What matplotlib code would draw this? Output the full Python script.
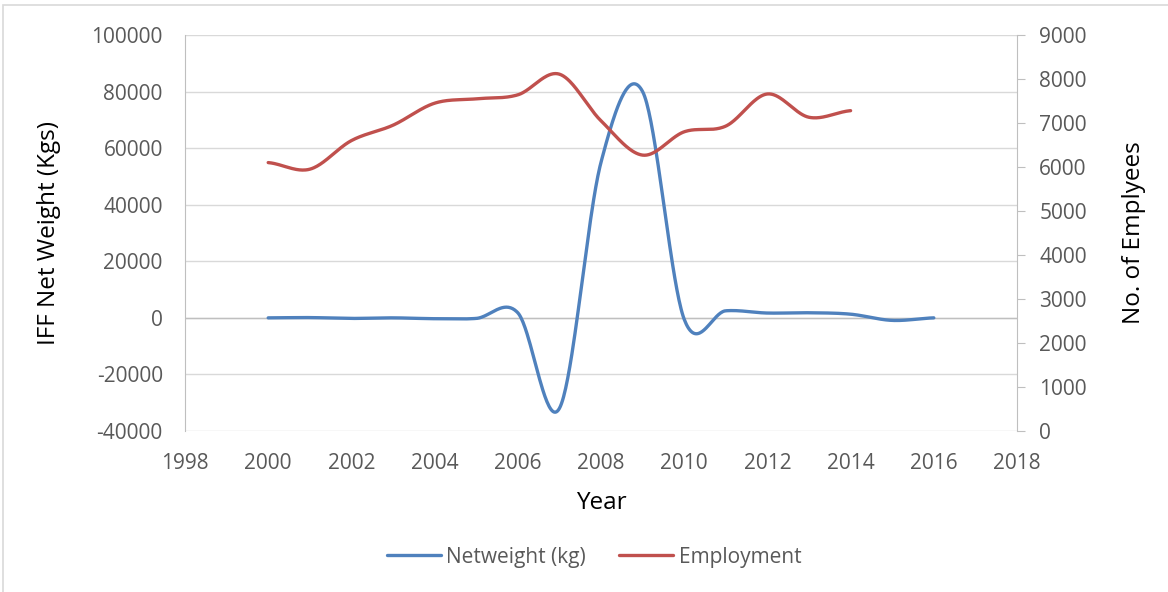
import numpy as np
import matplotlib
matplotlib.use("Agg")
import matplotlib.pyplot as plt
from matplotlib.patches import Rectangle

plt.rcParams['font.family'] = ['Open Sans', 'DejaVu Sans']
plt.rcParams['axes.unicode_minus'] = False

years_weight = [2000, 2001, 2002, 2003, 2004, 2005, 2006, 2007, 2008, 2009, 2010,
                2011, 2012, 2013, 2014, 2015, 2016]
netweight = [0, 100, -200, 0, -300, -200, 1800, -32000, 55000, 80000, -500,
             2500, 1700, 1800, 1300, -900, 0]

years_emp = [2000, 2001, 2002, 2003, 2004, 2005, 2006, 2007, 2008, 2009, 2010,
             2011, 2012, 2013, 2014]
employment = [6100, 5950, 6600, 6950, 7450, 7550, 7640, 8110, 7050, 6270, 6800,
              6930, 7660, 7130, 7280]

xticks = list(range(1998, 2019, 2))
left_ticks = list(range(-40000, 100001, 20000))
right_ticks = list(range(0, 9001, 1000))


def smooth(x, y, n=40):
    """Catmull-Rom spline through the points (like Excel's smoothed line)."""
    x = np.asarray(x, float)
    y = np.asarray(y, float)
    xs, ys = [], []
    N = len(x)
    for i in range(N - 1):
        p0 = y[i - 1] if i > 0 else y[i]
        p3 = y[i + 2] if i + 2 < N else y[i + 1]
        p1, p2 = y[i], y[i + 1]
        m1 = (p2 - p0) / 2 if i > 0 else (p2 - p1) / 2
        m2 = (p3 - p1) / 2 if i + 2 < N else (p2 - p1) / 2
        t = np.linspace(0, 1, n, endpoint=(i == N - 2))
        h00 = 2 * t**3 - 3 * t**2 + 1
        h10 = t**3 - 2 * t**2 + t
        h01 = -2 * t**3 + 3 * t**2
        h11 = t**3 - t**2
        ys.append(h00 * p1 + h10 * m1 + h01 * p2 + h11 * m2)
        xs.append(x[i] + t * (x[i + 1] - x[i]))
    return np.concatenate(xs), np.concatenate(ys)


fig = plt.figure(figsize=(11.68, 5.92), dpi=100)
fig.patches.append(Rectangle((3 / 1168, -0.1), 1.2, 1 - 5 / 592 + 0.1,
                             transform=fig.transFigure, fill=False,
                             edgecolor='#d9d9d9', linewidth=1.2))

ax = fig.add_axes([185 / 1168, 1 - 431 / 592, (1017 - 185) / 1168, (431 - 35) / 592])
ax2 = ax.twinx()

blue = '#4f81bd'
red = '#c0504d'
tick_color = '#595959'

sx, sy = smooth(years_weight, netweight)
l1, = ax.plot(sx, sy, color=blue, lw=2.4, solid_capstyle='round', label='Netweight (kg)', zorder=3)
ex, ey = smooth(years_emp, employment)
l2, = ax2.plot(ex, ey, color=red, lw=2.4, solid_capstyle='round', label='Employment', zorder=3)

ax.set_xlim(1998, 2018)
ax.set_ylim(-40000, 100000)
ax2.set_ylim(0, 9000)
ax.set_xticks(xticks)
ax.set_yticks(left_ticks)
ax2.set_yticks(right_ticks)

ax.grid(axis='y', color='#d9d9d9', lw=1.0)
ax.axhline(0, color='#bfbfbf', lw=1.0, zorder=1)
ax.set_axisbelow(True)

for a in (ax, ax2):
    for s in a.spines.values():
        s.set_visible(False)
ax.spines['left'].set_visible(True)
ax.spines['left'].set_color('#bfbfbf')
ax2.spines['right'].set_visible(True)
ax2.spines['right'].set_color('#bfbfbf')

ax.tick_params(axis='x', length=0, colors=tick_color, labelsize=15, pad=15.5)
ax.tick_params(axis='y', length=0, colors=tick_color, labelsize=15, pad=16)
ax2.tick_params(axis='y', length=6, color='#bfbfbf', labelcolor=tick_color, labelsize=15, pad=10)

ax.set_xlabel('Year', fontsize=17.5, labelpad=12.5)
ax.set_ylabel('IFF Net Weight (Kgs)', fontsize=17.5, labelpad=22)
ax2.set_ylabel('No. of Emplyees', fontsize=17.5, labelpad=25)

fig.legend(handles=[l1, l2], loc='center', bbox_to_anchor=(594 / 1168, 1 - 557 / 592),
           ncol=2, frameon=False, fontsize=15, labelcolor=tick_color,
           handlelength=2.6, handletextpad=0.25, columnspacing=1.6)

fig.savefig('out.png', dpi=100, facecolor='white')
